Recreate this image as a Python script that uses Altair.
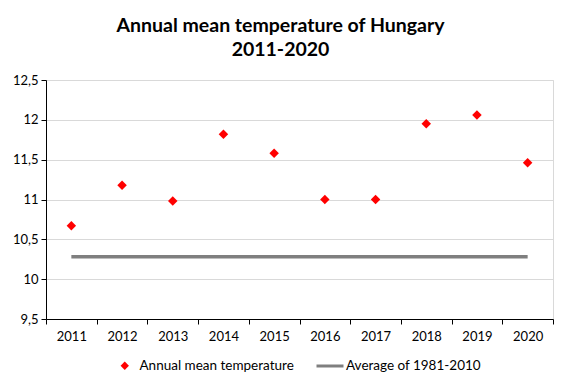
import altair as alt
import pandas as pd

years = ["2011", "2012", "2013", "2014", "2015", "2016", "2017", "2018", "2019", "2020"]
annual_mean = [10.67, 11.18, 10.98, 11.82, 11.58, 11.0, 11.0, 11.95, 12.06, 11.46]
normal_1981_2010 = [10.28] * 10

s1 = "Annual mean temperature"
s2 = "Average of 1981-2010"

df = pd.DataFrame({"year": years, "temp": annual_mean, "avg": normal_1981_2010,
                   "s1": [s1] * 10, "s2": [s2] * 10})

FONT = "Lato"

x = alt.X("year:N", title=None, sort=years,
          scale=alt.Scale(paddingInner=0, paddingOuter=0),
          axis=alt.Axis(labelAngle=0, tickBand="extent", tickSize=5, tickColor="black",
                        domainColor="black", labelFontSize=13, labelColor="black",
                        labelFont=FONT, labelPadding=6, grid=False))

yscale = alt.Scale(domain=[9.5, 12.5], nice=False, zero=False)
yaxis = alt.Axis(values=[9.5, 10, 10.5, 11, 11.5, 12, 12.5],
                 labelExpr="replace(toString(datum.value), '.', ',')",
                 tickSize=5, tickColor="black", domainColor="black",
                 labelFontSize=13, labelColor="black", labelFont=FONT, labelPadding=3,
                 gridColor="#d9d9d9", grid=True)

base = alt.Chart(df)

line = base.mark_line(strokeWidth=3.5).encode(
    x=x,
    y=alt.Y("avg:Q", scale=yscale, axis=yaxis, title=None),
    color=alt.Color("s2:N", scale=alt.Scale(domain=[s2], range=["#7f7f7f"]),
                    legend=alt.Legend(title=None, orient="none", legendX=269, legendY=271,
                                      symbolType="stroke", symbolSize=729, symbolStrokeWidth=3,
                                      labelFontSize=13.5, labelFont=FONT, labelColor="black",
                                      labelOffset=1)),
)

points = base.mark_point(filled=True, size=90, opacity=1, color="#ff0000").encode(
    x=x,
    y=alt.Y("temp:Q", scale=yscale, axis=yaxis, title=None),
    shape=alt.Shape("s1:N", scale=alt.Scale(domain=[s1], range=["diamond"]),
                    legend=alt.Legend(title=None, orient="none", legendX=72, legendY=279,
                                      symbolSize=70, symbolFillColor="#ff0000",
                                      symbolStrokeColor="#ff0000",
                                      labelFontSize=13.5, labelFont=FONT, labelColor="black",
                                      labelOffset=8)),
)

chart = alt.layer(line, points).resolve_legend(color="independent", shape="independent").properties(
    width=507, height=239,
    padding={"left": 38, "top": 72, "right": 1, "bottom": 54},
    autosize=alt.AutoSizeParams(type="none"),
    title=alt.TitleParams(["Annual mean temperature of Hungary", "2011-2020"],
                          anchor="middle", dx=-19, offset=14, fontSize=19.5, fontWeight="bold",
                          font=FONT, color="black", lineHeight=24),
    background="white",
).configure_view(stroke="#d9d9d9", strokeWidth=1)

chart.save("out.html", embed_options={"renderer": "svg", "actions": False})
